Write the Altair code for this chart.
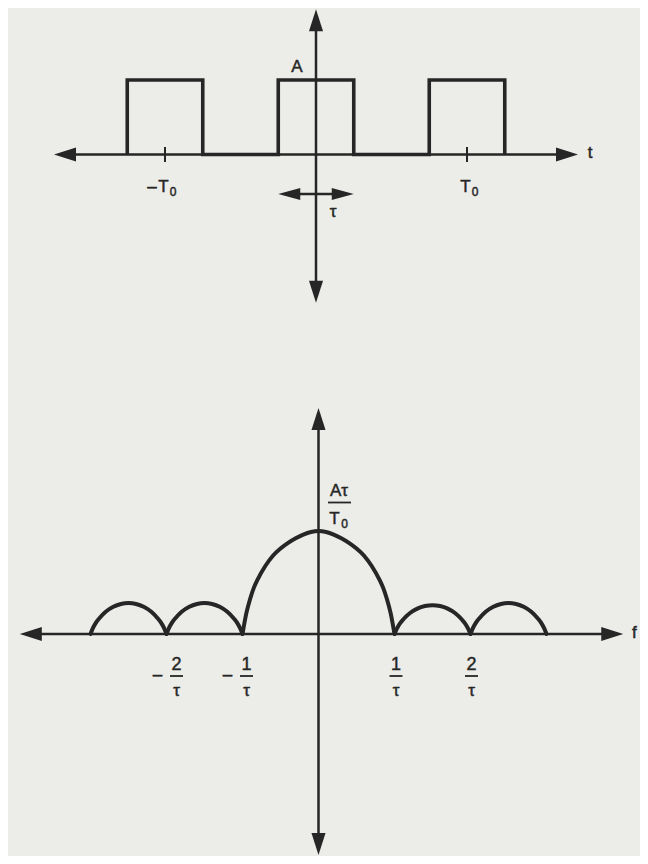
import altair as alt
import pandas as pd

# ---------------- values ----------------
# Top panel: periodic rectangular pulse train x(t)
PULSE_CENTERS = [-1.0, 0.0, 1.0]      # pulse centres, in units of T0
PULSE_WIDTH = 0.5                     # tau, in units of T0
PULSE_HEIGHT = 1.0                    # amplitude A
TIME_TICKS = [-1.0, 1.0]              # -T0 , T0
TIME_TICK_SIGNS = ["\u2013", ""]
TIME_AXIS_EXTENT = [-1.735, 1.735]    # arrow tips of the t axis (T0 units)
AMP_AXIS_EXTENT = [-1.99, 1.95]       # arrow tips of the vertical axis (A units)
TAU_MARKER_LEVEL = -0.53              # level of the tau double arrow (A units)

# Bottom panel: spectrum envelope, magnitude in units of A*tau/T0, f in units of 1/tau
MAIN_LOBE_F = [-1.0, -0.95, -0.9, -0.85, -0.8, -0.7, -0.6, -0.5, -0.4, -0.3, -0.2, -0.1, 0.0,
               0.1, 0.2, 0.3, 0.4, 0.5, 0.6, 0.7, 0.8, 0.85, 0.9, 0.95, 1.0]
MAIN_LOBE_MAG = [0.0, 0.20, 0.34, 0.45, 0.53, 0.66, 0.76, 0.83, 0.885, 0.93, 0.965, 0.99, 1.0,
                 0.99, 0.965, 0.93, 0.885, 0.83, 0.76, 0.66, 0.53, 0.45, 0.34, 0.20, 0.0]
SIDE_LOBE_U = [0.0, 0.03, 0.07, 0.12, 0.2, 0.3, 0.4, 0.5, 0.6, 0.7, 0.8, 0.88, 0.93, 0.97, 1.0]
SIDE_LOBE_SHAPE = [0.0, 0.18, 0.36, 0.52, 0.72, 0.88, 0.97, 1.0, 0.97, 0.88, 0.72, 0.52, 0.36, 0.18, 0.0]
SIDE_LOBE_START = [-3.0, -2.0, 1.0, 2.0]
SIDE_LOBE_PEAK = [0.30, 0.30, 0.28, 0.30]
FREQ_TICKS = [-2, -1, 1, 2]
FREQ_TICK_NUM = ["2", "1", "1", "2"]
FREQ_TICK_SIGNS = ["\u2013", "\u2013", "", ""]
FREQ_AXIS_EXTENT = [-3.93, 4.01]      # arrow tips of the f axis (1/tau units)
MAG_AXIS_EXTENT = [-2.146, 2.194]     # arrow tips of the vertical axis

# ---------------- style / layout ----------------
INK = "#262626"
PAPER = "#ecece8"
FONT = "Liberation Sans"
W = 632
TOP_H, BOT_H, GAP = 300, 458, 90
T_PX, A_PX = 151.0, 74.5
TOP_ORIGIN = (308.0, 146.5)
F_PX, M_PX = 76.0, 103.0
BOT_ORIGIN = (310.5, 236.0)
HEAD = 484
AXIS_HEAD = "M0,0L-2,-0.64L-2,0.64Z"
TAU_HEAD = "M0,0L-2,-0.55L-2,0.55Z"


def domains(origin, w, h, px_x, px_y):
    ox, oy = origin
    return [-ox / px_x, (w - ox) / px_x], [-(h - oy) / px_y, oy / px_y]


def enc(xdom, ydom):
    X = alt.X("x:Q", scale=alt.Scale(domain=xdom, nice=False, zero=False), axis=None)
    Y = alt.Y("y:Q", scale=alt.Scale(domain=ydom, nice=False, zero=False), axis=None)
    X2 = alt.X2("x2:Q")
    Y2 = alt.Y2("y2:Q")
    return X, Y, X2, Y2


def text(X, Y, x, y, label, size, dx=0, dy=0, **kw):
    return alt.Chart(pd.DataFrame({"x": [x], "y": [y]})).mark_text(
        text=label, font=FONT, fontSize=size, color=INK, stroke=INK, strokeWidth=0.45,
        dx=dx, dy=dy, **kw
    ).encode(x=X, y=Y)


def axes_layers(X, Y, X2, Y2, hext, vext, px_x, px_y):
    back_x, back_y = 12 / px_x, 12 / px_y
    rules = pd.DataFrame({
        "x": [hext[0] + back_x, 0.0], "x2": [hext[1] - back_x, 0.0],
        "y": [0.0, vext[0] + back_y], "y2": [0.0, vext[1] - back_y],
    })
    heads = pd.DataFrame({
        "x": [hext[0], hext[1], 0.0, 0.0],
        "y": [0.0, 0.0, vext[0], vext[1]],
        "angle": [180, 0, 90, 270],
    })
    r = alt.Chart(rules).mark_rule(color=INK, strokeWidth=2.5).encode(x=X, x2=X2, y=Y, y2=Y2)
    h = alt.Chart(heads).mark_point(shape=AXIS_HEAD, filled=True, size=HEAD, color=INK,
                                    opacity=1, strokeWidth=0).encode(
        x=X, y=Y, angle=alt.Angle("angle:Q", scale=None))
    return [r, h]


# ================= top panel =================
txd, tyd = domains(TOP_ORIGIN, W, TOP_H, T_PX, A_PX)
X1, Y1, X21, Y21 = enc(txd, tyd)

px, py = [], []
for c in PULSE_CENTERS:
    lo, hi = c - PULSE_WIDTH / 2, c + PULSE_WIDTH / 2
    px += [lo, lo, hi, hi]
    py += [0.0, PULSE_HEIGHT, PULSE_HEIGHT, 0.0]
pulse_df = pd.DataFrame({"x": px, "y": py, "o": list(range(len(px)))})

top_layers = axes_layers(X1, Y1, X21, Y21, TIME_AXIS_EXTENT, AMP_AXIS_EXTENT, T_PX, A_PX)
top_layers.append(alt.Chart(pulse_df).mark_line(color=INK, strokeWidth=3.6, strokeJoin="miter")
                  .encode(x=X1, y=Y1, order="o:Q"))
tick_df = pd.DataFrame({"x": TIME_TICKS, "y": [-0.1] * 2, "y2": [0.1] * 2})
top_layers.append(alt.Chart(tick_df).mark_rule(color=INK, strokeWidth=2).encode(x=X1, y=Y1, y2=Y21))
for t, s in zip(TIME_TICKS, TIME_TICK_SIGNS):
    if s:
        top_layers.append(text(X1, Y1, t, 0, s, 17, dx=-13, dy=32))
    top_layers.append(text(X1, Y1, t, 0, "T", 17, dx=-1.5, dy=32.5))
    top_layers.append(text(X1, Y1, t, 0, "0", 12, dx=8, dy=37.5))

# tau double arrow
tau_lo, tau_hi = -PULSE_WIDTH / 2, PULSE_WIDTH / 2
tau_rule = pd.DataFrame({"x": [tau_lo + 10 / T_PX], "x2": [tau_hi - 10 / T_PX],
                         "y": [TAU_MARKER_LEVEL]})
top_layers.append(alt.Chart(tau_rule).mark_rule(color=INK, strokeWidth=2.5).encode(x=X1, x2=X21, y=Y1))
tau_heads = pd.DataFrame({"x": [tau_lo, tau_hi], "y": [TAU_MARKER_LEVEL] * 2, "angle": [180, 0]})
top_layers.append(alt.Chart(tau_heads).mark_point(shape=TAU_HEAD, filled=True, size=HEAD, color=INK,
                                                  opacity=1, strokeWidth=0)
                  .encode(x=X1, y=Y1, angle=alt.Angle("angle:Q", scale=None)))
top_layers.append(text(X1, Y1, 0, TAU_MARKER_LEVEL, "\u03c4", 17, dx=17, dy=18))
top_layers.append(text(X1, Y1, 0, PULSE_HEIGHT, "A", 17, dx=-19, dy=-13.5))
top_layers.append(text(X1, Y1, TIME_AXIS_EXTENT[1], 0, "t", 17, dx=12, dy=-2))

top = alt.layer(*top_layers).properties(width=W, height=TOP_H)

# ================= bottom panel =================
bxd, byd = domains(BOT_ORIGIN, W, BOT_H, F_PX, M_PX)
X2s, Y2s, X22, Y22 = enc(bxd, byd)

fx, fy, lobe, order = list(MAIN_LOBE_F), list(MAIN_LOBE_MAG), ["main"] * len(MAIN_LOBE_F), list(range(len(MAIN_LOBE_F)))
for k, (start, peak) in enumerate(zip(SIDE_LOBE_START, SIDE_LOBE_PEAK)):
    for i, (u, s) in enumerate(zip(SIDE_LOBE_U, SIDE_LOBE_SHAPE)):
        fx.append(start + u)
        fy.append(peak * s)
        lobe.append(f"side{k}")
        order.append(i)
spec_df = pd.DataFrame({"x": fx, "y": fy, "lobe": lobe, "o": order})

bot_layers = axes_layers(X2s, Y2s, X22, Y22, FREQ_AXIS_EXTENT, MAG_AXIS_EXTENT, F_PX, M_PX)
bot_layers.append(alt.Chart(spec_df).mark_line(color=INK, strokeWidth=4, interpolate="monotone",
                                               strokeCap="round")
                  .encode(x=X2s, y=Y2s, detail="lobe:N", order="o:Q"))

label_dx = {-2: 10, -1: 4, 1: 1.5, 2: 1}
for f, num, s in zip(FREQ_TICKS, FREQ_TICK_NUM, FREQ_TICK_SIGNS):
    d = label_dx[f]
    if s:
        bot_layers.append(text(X2s, Y2s, f, 0, s, 17, dx=d - 19, dy=41))
    bot_layers.append(text(X2s, Y2s, f, 0, num, 18, dx=d, dy=31))
    bot_layers.append(text(X2s, Y2s, f, 0, "\u03c4", 17, dx=d, dy=57))
    bar = pd.DataFrame({"x": [f], "x2": [f], "y": [0.0]})
    bot_layers.append(alt.Chart(bar).mark_rule(color=INK, strokeWidth=1.8, xOffset=d - 6.5,
                                               x2Offset=d + 6.5, yOffset=42, y2Offset=42)
                      .encode(x=X2s, x2=X22, y=Y2s))

# A tau / T0 label at the peak
peak_val = max(MAIN_LOBE_MAG)
bot_layers.append(text(X2s, Y2s, 0, peak_val, "A\u03c4", 17, dx=20.5, dy=-40))
pbar = pd.DataFrame({"x": [0.0], "x2": [0.0], "y": [peak_val]})
bot_layers.append(alt.Chart(pbar).mark_rule(color=INK, strokeWidth=1.8, xOffset=9.5, x2Offset=32.5,
                                            yOffset=-28.5, y2Offset=-28.5)
                  .encode(x=X2s, x2=X22, y=Y2s))
bot_layers.append(text(X2s, Y2s, 0, peak_val, "T", 17, dx=16, dy=-12))
bot_layers.append(text(X2s, Y2s, 0, peak_val, "0", 12, dx=26, dy=-7))
bot_layers.append(text(X2s, Y2s, FREQ_AXIS_EXTENT[1], 0, "f", 17, dx=11, dy=-1))

bottom = alt.layer(*bot_layers).properties(width=W, height=BOT_H)

chart = alt.vconcat(top, bottom, spacing=GAP).properties(
    padding=0, background=PAPER
).configure_view(stroke=None)

chart.save("out.html", embed_options={"renderer": "svg", "actions": False})
